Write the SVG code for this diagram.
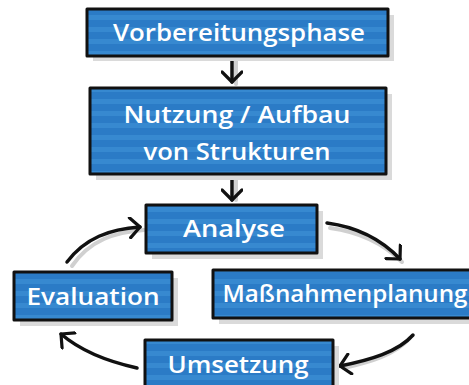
<svg xmlns="http://www.w3.org/2000/svg" width="469" height="385" viewBox="0 0 469 385">
<defs>
<pattern id="bluefill" patternUnits="userSpaceOnUse" width="10" height="12">
<rect width="10" height="12" fill="#2b7bc6"/>
<rect y="3" width="10" height="5" fill="#3789d0"/>
</pattern>
<marker id="ah" markerWidth="20" markerHeight="22" refX="12" refY="11" orient="auto" markerUnits="userSpaceOnUse">
<path d="M2,1 L12,11 L2,21" fill="none" stroke="#111" stroke-width="3.2" stroke-linecap="round" stroke-linejoin="round"/>
</marker>
</defs>
<style>
.shadow{fill:#dadada}
.box{fill:url(#bluefill);stroke:#111;stroke-width:3;stroke-linejoin:round}
.lbl{font-family:"Open Sans","Noto Sans",sans-serif;font-weight:600;font-size:24px;fill:#fff;text-anchor:middle}
.arrow{fill:none;stroke:#111;stroke-width:3.5;stroke-linecap:round;marker-end:url(#ah)}
.ashadow{fill:none;stroke:#d0d0d0;stroke-width:4;stroke-linecap:round}
</style>
<rect width="469" height="385" fill="#fff"/>

<g id="connectors">
<path class="ashadow" d="M236,60 L236,84"/>
<path class="arrow" d="M232,57 L232,82"/>
<path class="ashadow" d="M236,178 L236,200"/>
<path class="arrow" d="M232,175 L232,200"/>
<path class="ashadow" d="M72,266 C90,240 115,232 144,230"/>
<path class="arrow" d="M67,262 C85,238 110,229 140,227"/>
<path class="ashadow" d="M330,228 C360,232 385,245 402,262"/>
<path class="arrow" d="M327,223 C357,227 382,240 400,259"/>
<path class="ashadow" d="M410,338 C395,355 370,362 344,368"/>
<path class="arrow" d="M413,335 C398,352 370,360 340,366"/>
<path class="arrow" d="M137,368 C110,362 82,352 61,334"/>
</g>

<g id="vorbereitungsphase">
<rect class="shadow" x="93" y="15" width="301" height="46"/>
<rect class="box" x="87" y="9" width="301" height="47"/>
<text class="lbl" x="239" y="41" textLength="252" lengthAdjust="spacingAndGlyphs">Vorbereitungsphase</text>
</g>

<g id="nutzung">
<rect class="shadow" x="96" y="94" width="296" height="86"/>
<rect class="box" x="90" y="88" width="296" height="86"/>
<text class="lbl" x="237" y="123" textLength="227" lengthAdjust="spacingAndGlyphs">Nutzung / Aufbau</text>
<text class="lbl" x="237" y="160" textLength="187" lengthAdjust="spacingAndGlyphs">von Strukturen</text>
</g>

<g id="analyse">
<rect class="shadow" x="152" y="211" width="171" height="48"/>
<rect class="box" x="146" y="205" width="171" height="48"/>
<text class="lbl" x="234" y="237" textLength="102" lengthAdjust="spacingAndGlyphs">Analyse</text>
</g>

<g id="evaluation">
<rect class="shadow" x="20" y="278" width="158" height="48"/>
<rect class="box" x="14" y="272" width="158" height="48"/>
<text class="lbl" x="93" y="305" textLength="133" lengthAdjust="spacingAndGlyphs">Evaluation</text>
</g>

<g id="massnahmenplanung">
<rect class="shadow" x="219" y="276" width="260" height="48"/>
<rect class="box" x="213" y="270" width="262" height="48"/>
<text class="lbl" x="345" y="302" textLength="245" lengthAdjust="spacingAndGlyphs">Maßnahmenplanung</text>
</g>

<g id="umsetzung">
<rect class="shadow" x="151" y="346" width="188" height="50"/>
<rect class="box" x="145" y="340" width="188" height="52"/>
<text class="lbl" x="238" y="373" textLength="141" lengthAdjust="spacingAndGlyphs">Umsetzung</text>
</g>
</svg>
